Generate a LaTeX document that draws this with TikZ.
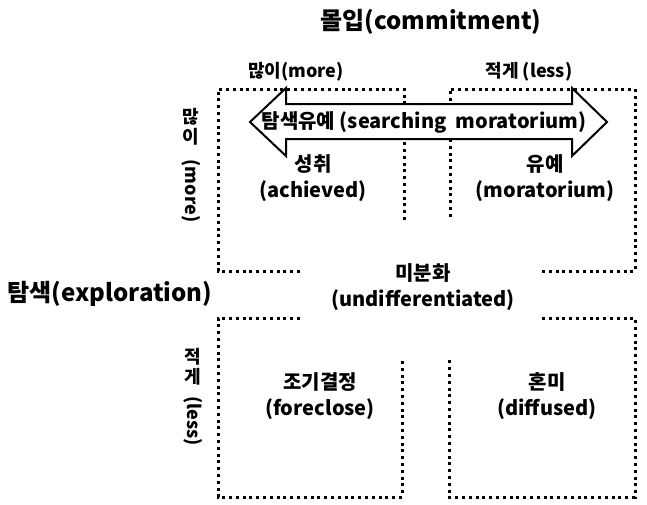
\documentclass[tikz,border=0pt]{standalone}
\usepackage{fontspec}
\setmainfont{Noto Sans CJK KR}
\begin{document}
\begin{tikzpicture}[x=1pt,y=-1pt,
  dotbox/.style={line width=3pt,dash pattern=on 3pt off 3.8pt,line cap=butt},
  lbl/.style={inner sep=0pt,font=\bfseries\fontsize{20}{26}\selectfont,align=center},
  axis/.style={inner sep=0pt,font=\bfseries\fontsize{18}{21}\selectfont},
  big/.style={inner sep=0pt,font=\bfseries\fontsize{24}{28}\selectfont}]
\useasboundingbox (0,0) rectangle (647,504);
% boxes
\draw[dotbox] (300,271) -- (218,271) -- (218,89) -- (404,89) -- (404,220);
\draw[dotbox] (542,271) -- (635,271) -- (635,89) -- (450,89) -- (450,220);
\draw[dotbox] (300,318) -- (218,318) -- (218,497) -- (402,497) -- (402,358);
\draw[dotbox] (542,318) -- (635,318) -- (635,497) -- (449,497) -- (449,358);
% double arrow
\draw[line width=2pt,fill=white,line join=miter]
  (250,122) -- (286,88) -- (286,104) -- (572,104) -- (572,88) -- (607,122)
  -- (572,156) -- (572,139) -- (286,139) -- (286,156) -- cycle;
\node[lbl] (srch) at (424,122) {탐색유예 (searching\ \ moratorium)};
% titles
\node[big] (commit) at (431,22) {몰입(commitment)};
\node[big] (explor) at (110,294) {탐색(exploration)};
\node[axis] (cmore) at (296,72) {많이(more)};
\node[axis] (cless) at (529,72) {적게 (less)};
% vertical axis labels
\node[axis] (emoreK1) at (191,117) {많};
\node[axis] (emoreK2) at (191,137) {이};
\node[axis,rotate=-90] (emoreL) at (191,191) {(more)};
\node[axis] (elessK1) at (193,357) {적};
\node[axis] (elessK2) at (193,377) {게};
\node[axis,rotate=-90] (elessL) at (193,421) {(less)};
% cells
\node[lbl] (ach) at (313,178) {성취\\(achieved)};
\node[lbl] (mor) at (545,178) {유예\\(moratorium)};
\node[lbl] (und) at (423,287) {미분화\\(undifferentiated)};
\node[lbl] (fore) at (320,396) {조기결정\\(foreclose)};
\node[lbl] (diff) at (547,396) {혼미\\(diffused)};
\end{tikzpicture}
\end{document}
